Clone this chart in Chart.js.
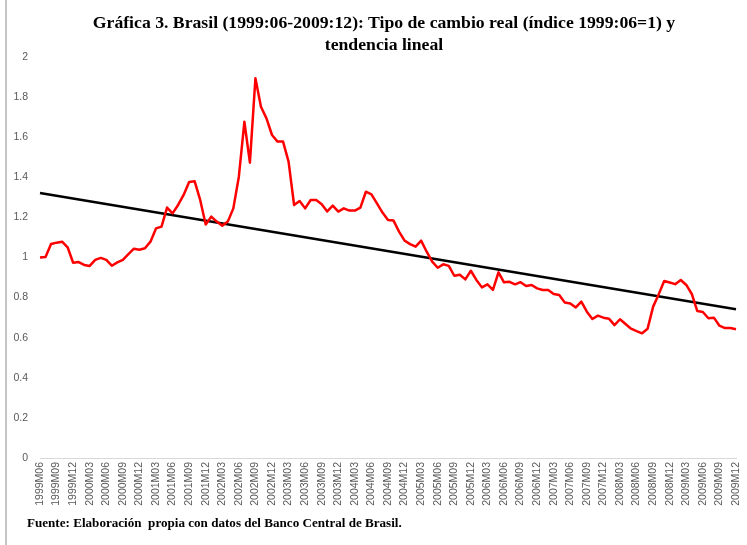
<!DOCTYPE html>
<html>
<head>
<meta charset="utf-8">
<script src="https://cdn.jsdelivr.net/npm/chart.js@4/dist/chart.umd.min.js"></script>
<style>
  html, body { margin: 0; padding: 0; background: #fff; }
  #wrap { position: relative; width: 747px; height: 545px; overflow: hidden; }
  #frame { position: absolute; left: 5px; top: 0; width: 2px; height: 545px; background: #c4c4c4; }
  #title {
    position: absolute; left: 0; top: 11px; width: 768px; text-align: center;
    font: bold 17.7px "Liberation Serif", serif; line-height: 22px; color: #000;
  }
  #source {
    position: absolute; left: 27px; top: 515px;
    font: bold 13.1px "Liberation Serif", serif; color: #000; white-space: pre;
  }
  canvas { position: absolute; left: 0; top: 0; }
</style>
</head>
<body>
<div id="wrap">
  <div id="frame"></div>
  <canvas id="tcChart" width="747" height="545"></canvas>
  <div id="title">Gráfica 3. Brasil (1999:06-2009:12): Tipo de cambio real (índice 1999:06=1) y<br>tendencia lineal</div>
  <div id="source">Fuente: Elaboración  propia con datos del Banco Central de Brasil.</div>
</div>
<script>
// ======================================================
// Datos
// ======================================================
const months = [];
for (let y = 1999; y <= 2009; y++) {
    for (let m = 1; m <= 12; m++) {
        if (y === 1999 && m < 6) continue;
        months.push(y + "M" + String(m).padStart(2, "0"));
    }
}

// Tipo de cambio real (índice 1999:06 = 1)
const tipoCambio = [
    1.000, 1.003, 1.067, 1.074, 1.079, 1.051, 0.974, 0.977, 0.963, 0.958,
    0.988, 0.998, 0.988, 0.959, 0.976, 0.988, 1.017, 1.044, 1.039, 1.046,
    1.079, 1.145, 1.154, 1.249, 1.220, 1.262, 1.312, 1.377, 1.380, 1.287,
    1.165, 1.204, 1.179, 1.159, 1.179, 1.245, 1.403, 1.677, 1.473, 1.894,
    1.752, 1.694, 1.611, 1.578, 1.578, 1.478, 1.262, 1.282, 1.245, 1.287,
    1.287, 1.266, 1.230, 1.259, 1.229, 1.245, 1.234, 1.234, 1.249, 1.328,
    1.315, 1.270, 1.224, 1.187, 1.184, 1.129, 1.084, 1.067, 1.054, 1.084,
    1.029, 0.979, 0.949, 0.966, 0.958, 0.909, 0.914, 0.891, 0.934, 0.888,
    0.851, 0.866, 0.838, 0.926, 0.876, 0.879, 0.866, 0.877, 0.858, 0.863,
    0.846, 0.838, 0.838, 0.818, 0.813, 0.776, 0.771, 0.751, 0.780, 0.730,
    0.693, 0.710, 0.700, 0.695, 0.663, 0.692, 0.668, 0.645, 0.633, 0.622,
    0.645, 0.755, 0.816, 0.883, 0.875, 0.867, 0.888, 0.863, 0.818, 0.733,
    0.728, 0.697, 0.700, 0.660, 0.648, 0.648, 0.642
];

// Tendencia lineal: extremos
const tendenciaInicio = 1.322;
const tendenciaFin = 0.742;

const yTicks = { min: 0, max: 2, step: 0.2 };

// ======================================================
// Gráfico
// ======================================================
const ctx = document.getElementById("tcChart").getContext("2d");

new Chart(ctx, {
    type: "line",
    data: {
        labels: months,
        datasets: [
            {
                label: "Tipo de cambio real",
                data: tipoCambio,
                borderColor: "#ff0000",
                borderWidth: 2.5,
                borderJoinStyle: "round",
                pointRadius: 0,
                tension: 0,
                order: 1
            },
            {
                label: "Tendencia lineal",
                data: [
                    { x: months[0], y: tendenciaInicio },
                    { x: months[months.length - 1], y: tendenciaFin }
                ],
                borderColor: "#000000",
                borderWidth: 2.5,
                pointRadius: 0,
                order: 2
            }
        ]
    },
    options: {
        responsive: false,
        animation: false,
        layout: { padding: { left: 10, right: 11, top: 57, bottom: 0 } },
        plugins: {
            legend: { display: false },
            tooltip: { enabled: false }
        },
        scales: {
            x: {
                offset: false,
                grid: { display: false, drawTicks: false },
                border: { display: true, color: "#d9d9d9", width: 1 },
                afterFit: (s) => { s.height = 87; s.paddingRight = 0; },
                ticks: {
                    autoSkip: false,
                    maxRotation: 90,
                    minRotation: 90,
                    padding: 4,
                    color: "#595959",
                    font: { family: "Liberation Sans", size: 10.5 },
                    callback: (v, i) => (i % 3 === 0 ? months[i] : null)
                }
            },
            y: {
                min: yTicks.min,
                max: yTicks.max,
                grid: { display: false, drawTicks: false },
                border: { display: false },
                afterFit: (s) => { s.width = 30; },
                ticks: {
                    stepSize: yTicks.step,
                    padding: 12,
                    color: "#595959",
                    font: { family: "Liberation Sans", size: 10.5 },
                    callback: (v) => String(+v.toFixed(1))
                }
            }
        }
    }
});
</script>
</body>
</html>
